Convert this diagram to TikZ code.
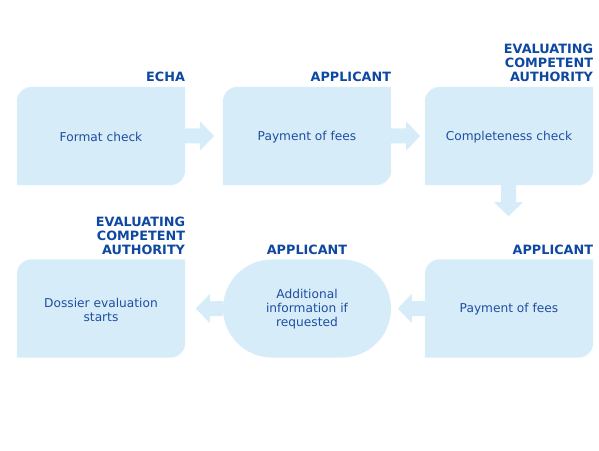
\documentclass[tikz,border=0pt]{standalone}
\usepackage{fontspec}
\setmainfont{DejaVu Sans}
\usetikzlibrary{shapes.misc,calc}
\definecolor{bfill}{RGB}{215,236,249}
\definecolor{btext}{RGB}{31,78,160}
\definecolor{blabel}{RGB}{14,72,160}
\tikzset{
  x=1pt,y=1pt,
  stepbox/.style={minimum width=168pt,minimum height=98pt,inner sep=0pt,align=center,
    text=btext,font=\fontsize{12.2}{14}\selectfont},
  roundbox/.style={stepbox,rounded rectangle,fill=bfill},
  role/.style={inner sep=0pt,align=right,text=blabel,font=\fontsize{12.8}{14}\selectfont\bfseries},
}
\newcommand{\cutbox}[1]{%
  \fill[bfill] (#1.south west) -- ([yshift=-15pt]#1.north west)
    arc[start angle=180,end angle=90,radius=15pt] -- (#1.north east)
    -- ([yshift=15pt]#1.south east) arc[start angle=0,end angle=-90,radius=15pt] -- cycle;}
\begin{document}
\begin{tikzpicture}
\useasboundingbox (0,0) rectangle (599,450);
% boxes (y measured from top: tikz y = 450 - y)
\node[stepbox] (b1) at (101,314) {};
\node[stepbox] (b2) at (307,314) {};
\node[stepbox] (b3) at (509,314) {};
\node[stepbox] (b4) at (509,141.5) {};
\node[roundbox] (b5) at (307,141.5) {};
\node[stepbox] (b6) at (101,141.5) {};
\cutbox{b1}\cutbox{b2}\cutbox{b3}\cutbox{b4}\cutbox{b6}
\node[stepbox] at ([yshift=-1pt]b1) {Format check};
\node[stepbox] at ([yshift=-1pt]b2) {Payment of fees};
\node[stepbox] at ([yshift=-1pt]b3) {Completeness check};
\node[stepbox] at ([yshift=-1pt]b4) {Payment of fees};
\node[stepbox] at ([yshift=-1pt]b5) {Additional\\information if\\requested};
\node[stepbox] at ([yshift=-1pt]b6) {Dossier evaluation\\starts};
% role labels
\node[role,anchor=south east] (l1) at ([yshift=4.5pt]b1.north east) {ECHA};
\node[role,anchor=south east] (l2) at ([yshift=4.5pt]b2.north east) {APPLICANT};
\node[role,anchor=south east] (l3) at ([yshift=4.5pt]b3.north east) {EVALUATING\\COMPETENT\\AUTHORITY};
\node[role,anchor=south east] (l4) at ([yshift=4.5pt]b4.north east) {APPLICANT};
\node[role,anchor=south] (l5) at ([yshift=4.5pt]b5.north) {APPLICANT};
\node[role,anchor=south east] (l6) at ([yshift=4pt]b6.north east) {EVALUATING\\COMPETENT\\AUTHORITY};
% block arrows
\fill[bfill] ([yshift=7.5pt]b1.east) -- ++(15,0) -- ++(0,7) -- ++(14,-14.5) -- ++(-14,-14.5) -- ++(0,7) -- ++(-15,0) -- cycle;
\fill[bfill] ([yshift=7.5pt]b2.east) -- ++(15,0) -- ++(0,7) -- ++(14,-14.5) -- ++(-14,-14.5) -- ++(0,7) -- ++(-15,0) -- cycle;
\fill[bfill] ([xshift=-7pt]b3.south) ++(-1,0) -- ++(0,-17) -- ++(-7,0) -- ++(14.5,-14) -- ++(14.5,14) -- ++(-7,0) -- ++(0,17) -- cycle;
\fill[bfill] ([yshift=7.5pt]b4.west) -- ++(-13,0) -- ++(0,7) -- ++(-14,-14.5) -- ++(14,-14.5) -- ++(0,7) -- ++(13,0) -- cycle;
\fill[bfill] ([yshift=7.5pt]b5.west) -- ++(-13,0) -- ++(0,7) -- ++(-14,-14.5) -- ++(14,-14.5) -- ++(0,7) -- ++(13,0) -- cycle;
\end{tikzpicture}
\end{document}
